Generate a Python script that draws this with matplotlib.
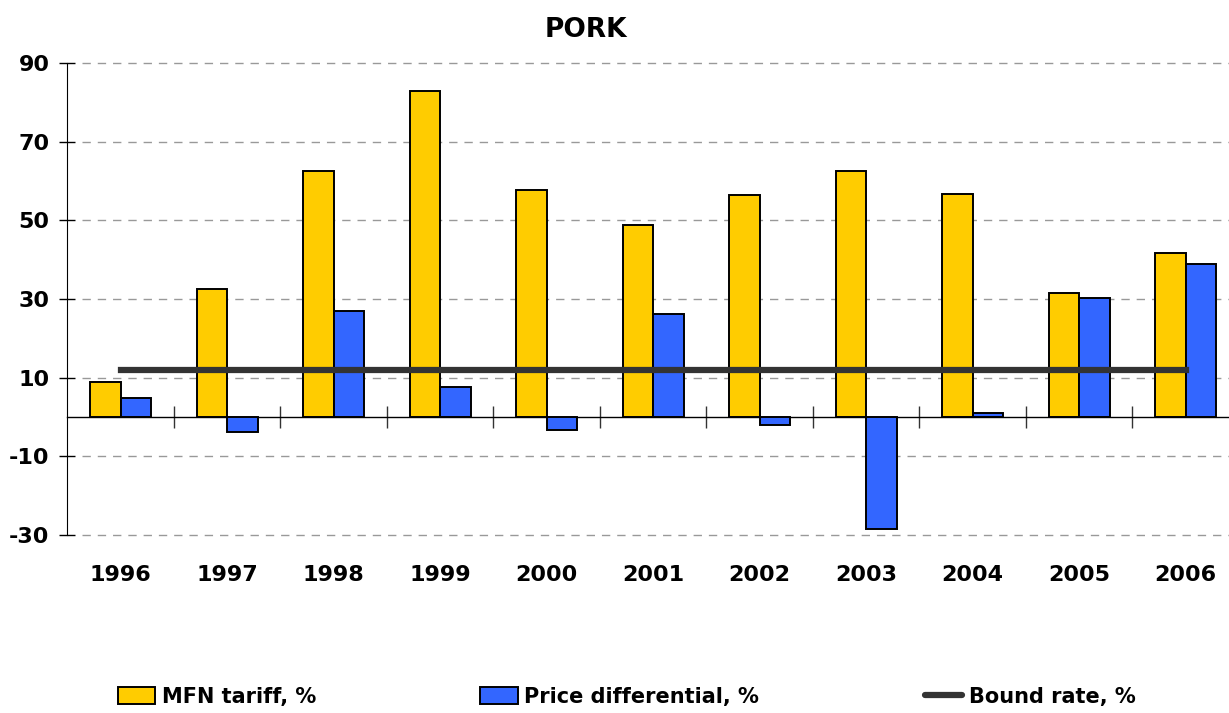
import matplotlib.pyplot as plt
import numpy as np
from matplotlib.patches import Patch
from matplotlib.lines import Line2D

years = ['1996', '1997', '1998', '1999', '2000', '2001',
         '2002', '2003', '2004', '2005', '2006']
mfn_tariff = [9.0, 32.5, 62.5, 82.9, 57.7, 48.8, 56.4, 62.5, 56.7, 31.6, 41.6]
price_diff = [4.7, -3.7, 27.0, 7.6, -3.3, 26.2, -2.0, -28.5, 1.0, 30.2, 38.9]
bound_rate = [12] * len(years)
y_ticks = [90, 70, 50, 30, 10, -10, -30]

bold = dict(fontweight='bold', fontfamily='DejaVu Sans')

fig = plt.figure(figsize=(12.29, 7.13), dpi=100)
ax = fig.add_axes([0.0549, 0.2497, 0.9531, 0.6619])

x = np.arange(len(years))
w = 0.286
ax.bar(x - w / 2, mfn_tariff, w, color='#FFCC00', edgecolor='black',
       linewidth=1.4, zorder=3)
ax.bar(x + w / 2, price_diff, w, color='#3366FF', edgecolor='black',
       linewidth=1.4, zorder=3)
ax.plot(x, bound_rate, color='#333333', linewidth=4.5, zorder=4)

ax.set_xlim(-0.5, len(years) - 0.5)
ax.set_ylim(-30, 90)
ax.set_yticks(y_ticks)
ax.set_yticklabels([str(v) for v in y_ticks], fontsize=16, **bold)
ax.tick_params(axis='y', direction='inout', length=12, width=1, pad=7)
for v in y_ticks:
    ax.axhline(v, xmin=0.012, color='#999999', linewidth=1, dashes=(6, 5),
               zorder=1, clip_on=False)

# zero line with group separators
for s in ['top', 'right']:
    ax.spines[s].set_visible(False)
ax.spines['bottom'].set_position(('data', 0))
ax.spines['bottom'].set_linewidth(1)
ax.set_xticks(np.arange(0.5, len(years) - 1, 1.0))
ax.set_xticklabels([])
ax.tick_params(axis='x', direction='inout', length=16, width=1, color='#333333')
for xi, yr in zip(x, years):
    ax.text(xi, -40.2, yr, ha='center', va='center', fontsize=16, **bold)

fig.text(0.477, 0.958, 'PORK', ha='center', va='center', fontsize=19, **bold)

handles = [Patch(facecolor='#FFCC00', edgecolor='black', linewidth=1.4),
           Patch(facecolor='#3366FF', edgecolor='black', linewidth=1.4),
           Line2D([0], [0], color='#333333', linewidth=4.5, solid_capstyle='round')]
labels = ['MFN tariff, %', 'Price differential, %', 'Bound rate, %']
legend_x = [0.096, 0.3906, 0.7526]
for h, lab, lx in zip(handles, labels, legend_x):
    fig.legend([h], [lab], loc='center left', bbox_to_anchor=(lx, 0.023),
               frameon=False, handlelength=1.8, handleheight=0.85,
               handletextpad=0.3, borderpad=0, borderaxespad=0,
               prop=dict(family='DejaVu Sans', weight='bold', size=15))

fig.savefig('out.png', dpi=100)
